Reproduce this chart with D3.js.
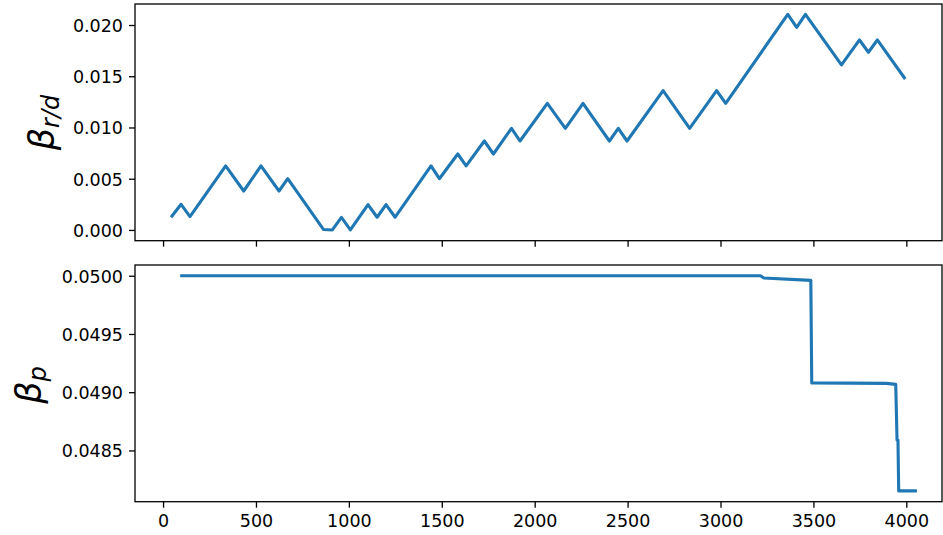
<!DOCTYPE html>
<html>
<head>
<meta charset="utf-8">
<script src="https://cdnjs.cloudflare.com/ajax/libs/d3/7.8.5/d3.min.js"></script>
<style>
body { margin: 0; background: #fff; }
svg { display: block; }
.axis text { font-family: "DejaVu Sans", sans-serif; font-size: 17.5px; fill: #000; }
.axis path, .axis line { stroke: #000; stroke-width: 1.3px; }
.ylab { font-family: "DejaVu Sans", sans-serif; font-style: italic; }
</style>
</head>
<body>
<div id="PlotArea"></div>
<script>
// top panel: beta_r/d over steps
var rldSteps = [43, 97, 145, 337, 434, 527, 624, 671, 863, 911, 960, 1008, 1103, 1152, 1200, 1249,
	1442, 1487, 1586, 1631, 1729, 1778, 1875, 1921, 2068, 2165, 2260, 2402, 2450, 2497, 2691, 2834,
	2979, 3028, 3362, 3410, 3457, 3651, 3748, 3796, 3844, 3994];
var rldValues = [0.00124, 0.00250, 0.00130, 0.00625, 0.00380, 0.00625, 0.00380, 0.00500, 0.00005, 0.00000,
	0.00122, 0.00000, 0.00248, 0.00124, 0.00248, 0.00124, 0.00625, 0.00500, 0.00741, 0.00625, 0.00868,
	0.00741, 0.00992, 0.00868, 0.01236, 0.00992, 0.01236, 0.00868, 0.00992, 0.00868, 0.01360, 0.00992,
	0.01360, 0.01236, 0.02104, 0.01978, 0.02104, 0.01610, 0.01854, 0.01734, 0.01854, 0.01473];

// bottom panel: beta_p over steps
var pSteps = [92, 3215, 3233, 3486, 3491, 3893, 3943, 3950, 3955, 3959, 4057];
var pValues = [0.05, 0.05, 0.04998, 0.04996, 0.04908, 0.049076, 0.049067, 0.04859, 0.04859, 0.048153, 0.048153];

// tick values
var xTicks = [0, 500, 1000, 1500, 2000, 2500, 3000, 3500, 4000];
var rldTicks = [0, 0.005, 0.010, 0.015, 0.020];
var pTicks = [0.0485, 0.0490, 0.0495, 0.0500];

var W = 943, H = 535;
var left = 135, right = 942;
var top1 = [4, 240.7], top2 = [265, 501.7];
var blue = "#1f77b4";

var svg = d3.select("#PlotArea").append("svg")
	.attr("width", W)
	.attr("height", H);

var xscale = d3.scaleLinear().domain([-151, 4192]).range([left, right]);
var y1 = d3.scaleLinear().domain([-0.00105, 0.02205]).range([top1[1], top1[0]]);
var y2 = d3.scaleLinear().domain([0.04806, 0.050092]).range([top2[1], top2[0]]);

function panel(yscale, box, yticks, fmt, steps, values, showX) {
	var g = svg.append("g");
	var dat = steps.map(function (s, i) { return {x: s, y: values[i]}; });
	var lineFunction = d3.line().x(function (d) { return xscale(d.x); }).y(function (d) { return yscale(d.y); });
	g.append("path")
		.attr("fill", "none")
		.attr("stroke", blue)
		.attr("stroke-width", 3.1)
		.attr("stroke-linejoin", "round")
		.attr("d", lineFunction(dat));

	// axes
	var x_axis = d3.axisBottom(xscale).tickValues(xTicks).tickSize(6).tickPadding(6)
		.tickFormat(showX ? d3.format("d") : "");
	var y_axis = d3.axisLeft(yscale).tickValues(yticks).tickSize(6).tickPadding(6).tickFormat(d3.format(fmt));
	var gx = g.append("g").attr("class", "axis").attr("transform", "translate(0," + box[1] + ")").call(x_axis);
	gx.select(".domain").remove();
	gx.selectAll("text").attr("dy", "0.76em");
	var gy = g.append("g").attr("class", "axis").attr("transform", "translate(" + left + ",0)").call(y_axis);
	gy.select(".domain").remove();
	gy.selectAll("text").attr("dy", "0.36em");

	// frame
	g.append("rect")
		.attr("x", left).attr("y", box[0])
		.attr("width", right - left).attr("height", box[1] - box[0])
		.attr("fill", "none").attr("stroke", "#000").attr("stroke-width", 1.3);
	return g;
}

panel(y1, top1, rldTicks, ".3f", rldSteps, rldValues, false);
panel(y2, top2, pTicks, ".4f", pSteps, pValues, true);

// y labels
function ylabel(x, cy, sub) {
	var t = svg.append("text")
		.attr("class", "ylab")
		.attr("transform", "translate(" + x + "," + cy + ") rotate(-90)")
		.attr("text-anchor", "middle")
		.style("font-size", "35px");
	t.append("tspan").text("β");
	t.append("tspan").attr("baseline-shift", "-22%").style("font-size", "24px").text(sub);
}
ylabel(54, 122.5, "r/d");
ylabel(41, 385, "p");
</script>
</body>
</html>
